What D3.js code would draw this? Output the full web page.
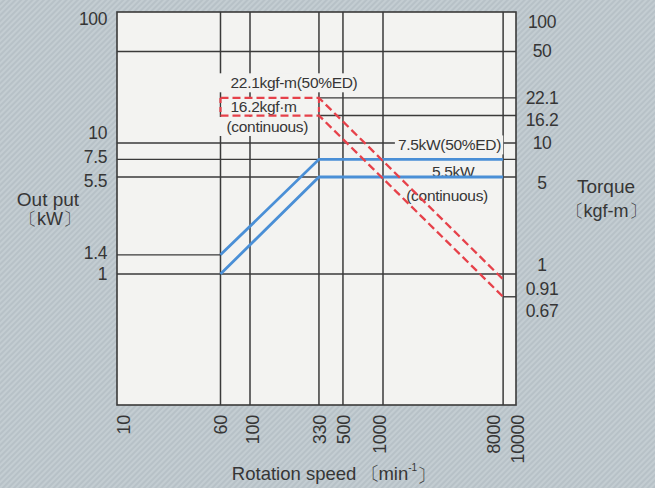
<!DOCTYPE html>
<html><head><meta charset="utf-8">
<script src="https://cdn.jsdelivr.net/npm/d3@7/dist/d3.min.js"></script>
<style>
html,body{margin:0;padding:0;background:#bac4ca;}
svg{display:block;}
</style></head><body>
<svg id="chart" width="655" height="488"></svg>
<script>
// ---- data ----
const speedTicks = [10, 60, 100, 330, 500, 1000, 8000, 10000];
const outputTicks = [100, 10, 7.5, 5.5, 1.4, 1];
const torqueTicks = [100, 50, 22.1, 16.2, 10, 5, 1, 0.91, 0.67];
const speedBreaks = [60, 330, 8000];
const output50ED = [1.4, 7.5, 7.5];
const outputCont = [1, 5.5, 5.5];
const torque50ED = [22.1, 22.1, 0.91];
const torqueCont = [16.2, 16.2, 0.67];
const speedDomain = [10, 10000];
const outputDomain = [0.1, 100];
const torqueDomain = [0.1, 100];
// horizontal grid spans: [value, fromSpeed, toSpeed]
const outputGrid = [[10, 10, 10000], [7.5, 10, 10000], [5.5, 10, 10000], [1.4, 10, 60], [1, 10, 10000]];
const torqueGrid = [[50, 10, 10000], [22.1, 330, 10000], [16.2, 330, 10000], [0.67, 8000, 10000]];

// ---- layout ----
const FONT = '"Liberation Sans", Arial, Helvetica, sans-serif';
const TXT = "#363636";
const GRID = "#3a3a3a";
const PLOTBG = "#f3f3f1";
const BLUE = "#4a8fd6";
const RED = "#e6414a";

const svg = d3.select("#chart");
const defs = svg.append("defs");
const pat = defs.append("pattern").attr("id", "tex").attr("width", 4).attr("height", 4)
  .attr("patternUnits", "userSpaceOnUse").attr("patternTransform", "rotate(45)");
pat.append("rect").attr("width", 4).attr("height", 4).attr("fill", "#b7c1c7");
pat.append("line").attr("x1", 1).attr("y1", 0).attr("x2", 1).attr("y2", 4)
  .attr("stroke", "#c7d0d5").attr("stroke-width", 1.6);
svg.append("rect").attr("width", 655).attr("height", 488).attr("fill", "url(#tex)");

const x = d3.scaleLog().domain(speedDomain).range([117, 516]);
const y = d3.scaleLog().domain(outputDomain).range([405, 12]);
const yT = d3.scaleLog().domain(torqueDomain).range([405, 12]);

const [x0, x1] = x.range();
const [yb, yt] = y.range();

svg.append("rect").attr("x", x0).attr("y", yt).attr("width", x1 - x0).attr("height", yb - yt).attr("fill", PLOTBG);

// vertical grid
svg.append("g").selectAll("line").data(speedTicks.filter(d => d !== speedDomain[0] && d !== speedDomain[1]))
  .join("line").attr("x1", d => x(d)).attr("x2", d => x(d)).attr("y1", yt).attr("y2", yb)
  .attr("stroke", GRID).attr("stroke-width", 1.5);
// horizontal grid
svg.append("g").selectAll("line").data(outputGrid).join("line")
  .attr("x1", d => x(d[1])).attr("x2", d => x(d[2])).attr("y1", d => y(d[0])).attr("y2", d => y(d[0]))
  .attr("stroke", GRID).attr("stroke-width", 1.4);
svg.append("g").selectAll("line").data(torqueGrid).join("line")
  .attr("x1", d => x(d[1])).attr("x2", d => x(d[2])).attr("y1", d => yT(d[0])).attr("y2", d => yT(d[0]))
  .attr("stroke", GRID).attr("stroke-width", 1.4);
// frame
svg.append("rect").attr("x", x0).attr("y", yt).attr("width", x1 - x0).attr("height", yb - yt)
  .attr("fill", "none").attr("stroke", GRID).attr("stroke-width", 1.6);

// ---- in-plot labels ----
const lblG = svg.append("g");
function label(txt, px, py, anchor, size, bg, padL, padR) {
  const t = lblG.append("text").attr("x", px).attr("y", py).attr("dy", "0.35em")
    .attr("text-anchor", anchor).attr("font-family", FONT).attr("font-size", size)
    .attr("fill", TXT).attr("letter-spacing", -0.3).text(txt);
  if (bg) {
    const b = t.node().getBBox();
    lblG.insert("rect", "text").attr("x", b.x - (padL || 3)).attr("y", b.y - 1)
      .attr("width", b.width + (padL || 3) + (padR || 3)).attr("height", b.height + 2).attr("fill", PLOTBG);
  }
  return t;
}
label("22.1kgf-m(50%ED)", x(60) + 10, yT(22.1) - 15, "start", 15.5, true, 12, 3);
label("16.2kgf\u00b7m", x(60) + 10, (yT(22.1) + yT(16.2)) / 2, "start", 15.5, true, 9, 2);
label("(continuous)", x(60) + 6, yT(16.2) + 11, "start", 15.5, true, 8, 2);
label("7.5kW(50%ED)", x(8000) - 2, y(10) + 2, "end", 15.5, true, 3, 2);

// ---- curves ----
const ptsOut = arr => speedBreaks.map((s, i) => [x(s), y(arr[i])]);
const ptsTq = arr => speedBreaks.map((s, i) => [x(s), yT(arr[i])]);
const line = d3.line();
svg.append("path").attr("d", line(ptsOut(output50ED))).attr("fill", "none").attr("stroke", BLUE).attr("stroke-width", 2.8);
svg.append("path").attr("d", line(ptsOut(outputCont))).attr("fill", "none").attr("stroke", BLUE).attr("stroke-width", 2.8);
svg.append("path").attr("d", line(ptsTq(torque50ED))).attr("fill", "none").attr("stroke", RED).attr("stroke-width", 2.3).attr("stroke-dasharray", "8,4");
svg.append("path").attr("d", line(ptsTq(torqueCont))).attr("fill", "none").attr("stroke", RED).attr("stroke-width", 2.3).attr("stroke-dasharray", "8,4");
// red box sides
[speedBreaks[0], speedBreaks[1]].forEach(s => {
  svg.append("line").attr("x1", x(s)).attr("x2", x(s)).attr("y1", yT(torque50ED[0])).attr("y2", yT(torqueCont[0]))
    .attr("stroke", RED).attr("stroke-width", 2.2).attr("stroke-dasharray", "5,4");
});

label("5.5kW", x(8000) - 50, y(7.5) + 12, "middle", 15.5, false);
label("(continuous)", x(8000) - 56, y(5.5) + 19, "middle", 15.5, false);

// ---- axes ----
const leftNudge = {100: 7, 10: -10, 7.5: -2, 5.5: 4, 1.4: -2, 1: 0};
const gL = svg.append("g").attr("transform", `translate(${x0},0)`)
  .call(d3.axisLeft(y).tickValues(outputTicks).tickSize(0).tickPadding(10).tickFormat(d => String(d)));
gL.select(".domain").remove();
gL.attr("font-family", FONT).attr("font-size", 17.5);
gL.selectAll("text").attr("fill", TXT).attr("y", d => leftNudge[d] || 0).attr("letter-spacing", -0.4);

const rightNudge = {100: 10, 50: -1, 22.1: 0, 16.2: 4, 10: 0, 5: 0, 1: -9, 0.91: 10, 0.67: 14};
const gR = svg.append("g").attr("transform", `translate(${x1},0)`)
  .call(d3.axisRight(yT).tickValues(torqueTicks).tickSize(0).tickPadding(26).tickFormat(d => String(d)));
gR.select(".domain").remove();
gR.attr("font-family", FONT).attr("font-size", 17.5);
gR.selectAll("text").attr("fill", TXT).attr("text-anchor", "middle").attr("y", d => rightNudge[d] || 0).attr("letter-spacing", -0.4);

const bottomNudge = {10: 6, 60: 0, 100: 2, 330: 0, 500: 0, 1000: -4, 8000: -10, 10000: 1};
const gB = svg.append("g").attr("transform", `translate(0,${yb})`)
  .call(d3.axisBottom(x).tickValues(speedTicks).tickSize(0).tickFormat(d3.format("d")));
gB.select(".domain").remove();
gB.attr("font-family", FONT).attr("font-size", 18);
gB.selectAll(".tick text").attr("fill", TXT).attr("transform", "rotate(-90)")
  .attr("text-anchor", "end").attr("x", -10).attr("y", d => bottomNudge[d] || 0).attr("dy", "0.35em").attr("letter-spacing", -0.3);

// ---- axis titles ----
function title(parts, px, py, size) {
  const t = svg.append("text").attr("x", px).attr("y", py).attr("dy", "0.35em").attr("text-anchor", "middle")
    .attr("font-family", FONT).attr("font-size", size).attr("fill", TXT);
  parts.forEach(p => {
    const s = t.append("tspan").text(p.t);
    if (p.dx) s.attr("dx", p.dx);
    if (p.dy) s.attr("dy", p.dy);
    if (p.fs) s.attr("font-size", p.fs);
  });
  return t;
}
title([{t: "Out put"}], 48, 199, 19);
title([{t: "\u3014kW\u3015"}], 50, 219, 18);
title([{t: "Torque"}], 606, 186, 19);
title([{t: "\u3014kgf-m\u3015"}], 606, 211, 18);
title([{t: "Rotation speed \u3014"}, {t: "min", dx: -2}, {t: "-1", dy: "-0.9em", fs: 10}, {t: "\u3015", dy: "0.55em"}], 334, 474, 18.5);
</script>
</body></html>
